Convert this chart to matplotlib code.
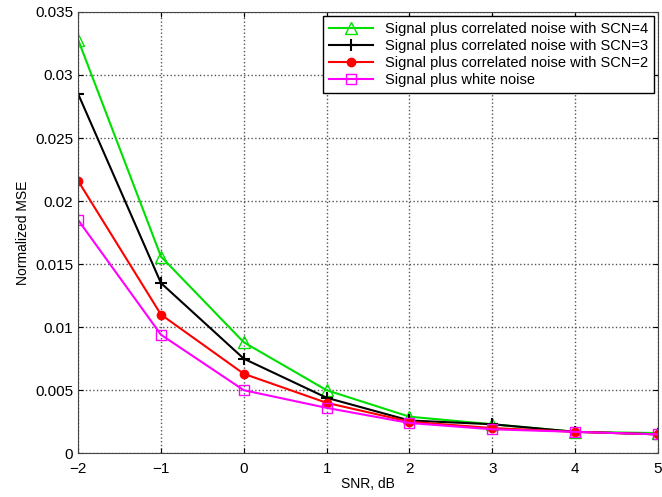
import matplotlib
matplotlib.use("Agg")
import matplotlib.pyplot as plt

plt.rcParams["font.family"] = ["Liberation Sans", "DejaVu Sans"]

snr = [-2, -1, 0, 1, 2, 3, 4, 5]
scn4 = [0.0328, 0.0156, 0.0088, 0.0050, 0.0029, 0.0023, 0.0017, 0.0016]
scn3 = [0.0285, 0.0135, 0.0075, 0.0044, 0.0026, 0.0023, 0.0017, 0.0015]
scn2 = [0.0216, 0.0110, 0.0063, 0.0040, 0.0025, 0.0020, 0.0017, 0.0015]
white = [0.0185, 0.0094, 0.0050, 0.0036, 0.0024, 0.0019, 0.0017, 0.0015]

fig = plt.figure(figsize=(6.62, 4.97), dpi=100)
ax = fig.add_axes([0.118, 0.088, 0.876, 0.888])

ax.plot(snr, scn4, color="#00e000", marker="^", markersize=8, mfc="none",
        lw=1.5, label="Signal plus correlated noise with SCN=4")
ax.plot(snr, scn3, color="black", marker="+", markersize=9, mew=1.5,
        lw=1.5, label="Signal plus correlated noise with SCN=3")
ax.plot(snr, scn2, color="red", marker="o", markersize=6,
        lw=1.5, label="Signal plus correlated noise with SCN=2")
ax.plot(snr, white, color="magenta", marker="s", markersize=7, mfc="none",
        lw=1.5, label="Signal plus white noise")

ax.set_xlim(-2, 5)
ax.set_ylim(0, 0.035)
ax.set_yticks([0, 0.005, 0.01, 0.015, 0.02, 0.025, 0.03, 0.035])
ax.set_yticklabels(["0", "0.005", "0.01", "0.015", "0.02", "0.025", "0.03", "0.035"])
ax.grid(True, linestyle=":", color="#555555", lw=1)
ax.tick_params(direction="in", labelsize=11, top=True, right=True)
ax.tick_params(axis="x", pad=6)
ax.set_xlabel("SNR, dB", fontsize=10, labelpad=1)
ax.set_ylabel("Normalized MSE", fontsize=10)
for s in ax.spines.values():
    s.set_color("#444444")

leg = ax.legend(loc="upper right", fontsize=10.5, fancybox=False,
                edgecolor="black", framealpha=1, borderaxespad=0.3,
                handlelength=3, labelspacing=0.2)
leg.get_frame().set_linewidth(1)

fig.savefig("out.png", dpi=100)
